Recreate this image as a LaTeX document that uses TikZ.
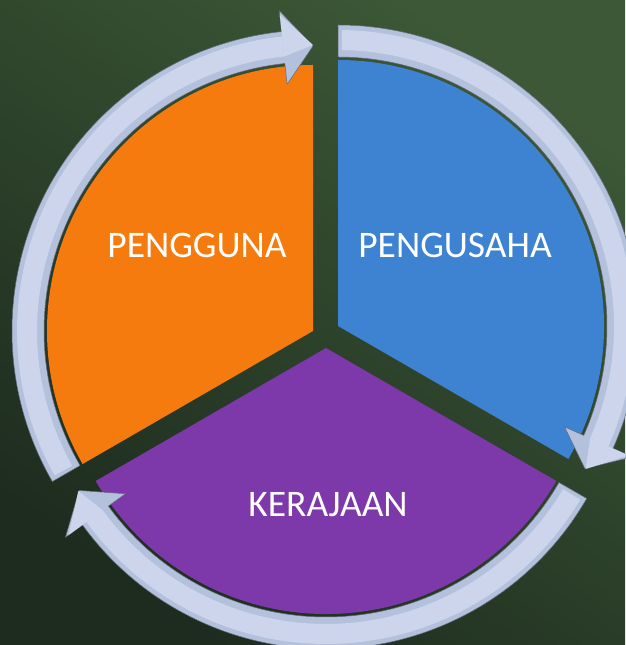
\documentclass[tikz,border=0pt]{standalone}
\usepackage{fontspec}
\setmainfont{Carlito}
\definecolor{bgtop}{RGB}{60,88,54}
\definecolor{bgbot}{RGB}{30,44,31}
\definecolor{segorange}{RGB}{245,123,14}
\definecolor{segblue}{RGB}{62,130,210}
\definecolor{segpurple}{RGB}{125,56,170}
\definecolor{ringfill}{RGB}{180,193,220}
\definecolor{ringlight}{RGB}{204,213,235}
\begin{document}
\begin{tikzpicture}[x=1pt, y=1pt, line join=round,
  segtext/.style={text=white, font=\fontsize{37.5}{45}\selectfont}]
\useasboundingbox (0,0) rectangle (625,645);
\shade[top color=bgtop, bottom color=bgbot, shading angle=-35] (0,0) rectangle (625,645);
\path
(313,314) coordinate (O)
(338,319) coordinate (B)
(326,297) coordinate (P)
;
% segments
\foreach \c/\a/\col in {O/90/segorange, B/-30/segblue, P/210/segpurple}
  \fill[\col] (\c) -- ([shift={(\a:266)}]\c) arc[start angle=\a, delta angle=120, radius=266] -- cycle;
% arrows, clockwise from tail to tip
\foreach \c/\t in {O/210, B/90, P/330}{
  \pgfmathsetmacro\h{\t-114}
  \pgfmathsetmacro\e{\t-120}
  \fill[ringfill, draw=ringfill!55!black, line width=0.5]
    ([shift={(\t:301)}]\c) arc[start angle=\t, end angle=\h, radius=301]
    -- ([shift={(\h:322)}]\c) -- ([shift={(\e:285)}]\c) -- ([shift={(\h:248)}]\c)
    -- ([shift={(\h:269)}]\c) arc[start angle=\h, end angle=\t, radius=269] -- cycle;
  \draw[ringlight, line width=20] ([shift={(\t-0.8:286)}]\c) arc[start angle=\t-0.8, end angle=\h, radius=286];
  \fill[ringlight] ([shift={(\h:276)}]\c) -- ([shift={(\h:318)}]\c) -- ([shift={(\e:286)}]\c) -- cycle;
}
\node[segtext] (pengguna) at (197,400) {PENGGUNA};
\node[segtext] (pengusaha) at (455,400) {PENGUSAHA};
\node[segtext] (kerajaan) at (328,140) {KERAJAAN};
\end{tikzpicture}
\end{document}
